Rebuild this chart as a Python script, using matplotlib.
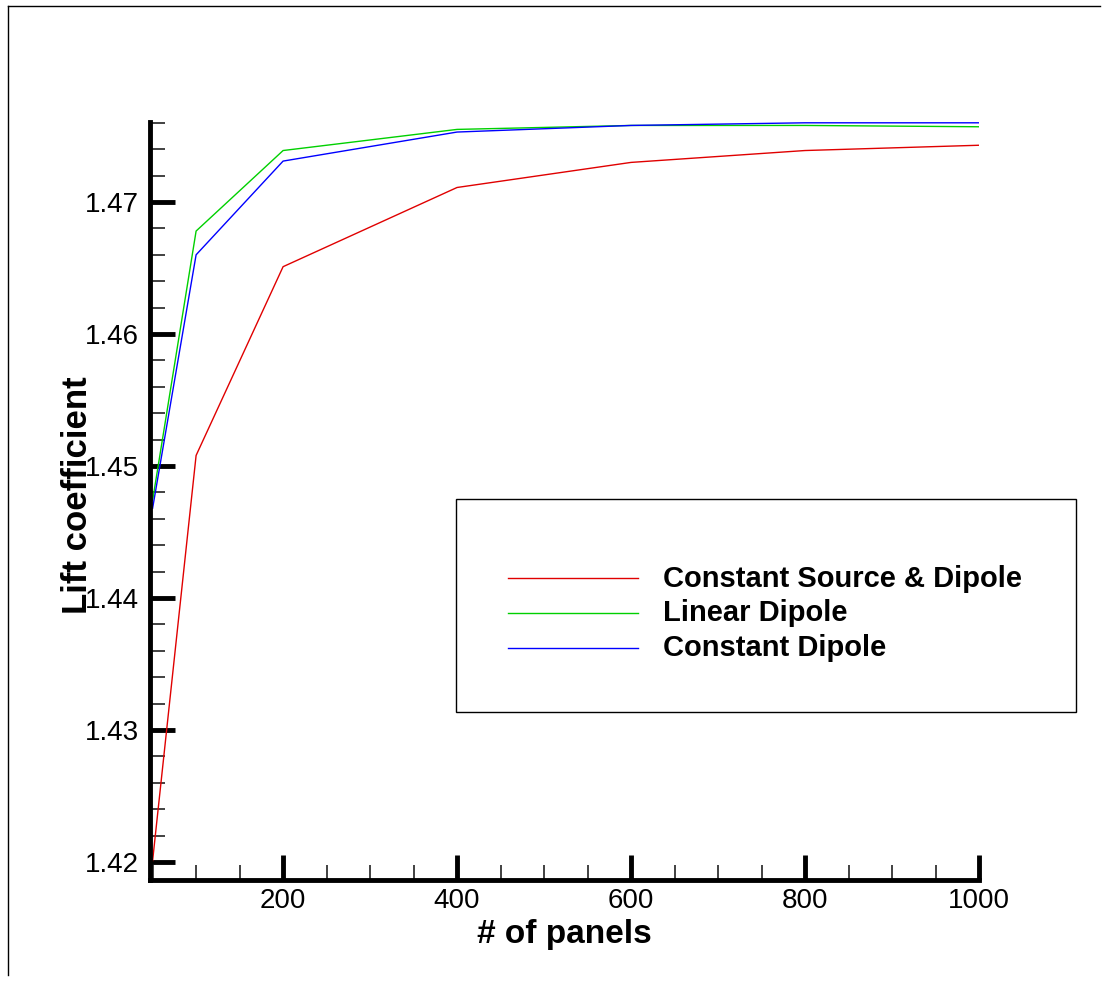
import matplotlib
matplotlib.use("Agg")
import matplotlib.pyplot as plt
from matplotlib.lines import Line2D
from matplotlib.ticker import MultipleLocator

plt.rcParams['font.family'] = ['Liberation Sans', 'DejaVu Sans']

panels = [50, 100, 200, 400, 600, 800, 1000]
const_source_dipole = [1.4201, 1.4508, 1.4651, 1.4711, 1.4730, 1.4739, 1.4743]
linear_dipole = [1.4474, 1.4678, 1.4739, 1.4755, 1.4758, 1.4758, 1.4757]
constant_dipole = [1.4468, 1.4660, 1.4731, 1.4753, 1.4758, 1.4760, 1.4760]
labels = ["Constant Source & Dipole", "Linear Dipole", "Constant Dipole"]
colors = ["#e00000", "#00d000", "#0000ff"]
ytick_vals = [1.42, 1.43, 1.44, 1.45, 1.46, 1.47]
xtick_vals = [200, 400, 600, 800, 1000]

W, H = 1105, 983
fig = plt.figure(figsize=(W/100, H/100), dpi=100)
ax = fig.add_axes([150/W, (H-880)/H, 829/W, (880-122)/H])

series = [const_source_dipole, linear_dipole, constant_dipole]
handles = []
for ys, c, lab in zip(series, colors, labels):
    h, = ax.plot(panels, ys, color=c, lw=1.0, label=lab)
    handles.append(h)

ax.set_xlim(47, 1000)
ax.set_ylim(1.418636, 1.476061)
ax.xaxis.set_minor_locator(MultipleLocator(50))
ax.yaxis.set_minor_locator(MultipleLocator(0.002))
ax.set_yticks(ytick_vals)
ax.set_yticklabels([f"{v:.2f}" for v in ytick_vals])
ax.set_xticks(xtick_vals)
ax.set_xticklabels([str(v) for v in xtick_vals])

for s in ['top', 'right']:
    ax.spines[s].set_visible(False)
for s in ['left', 'bottom']:
    ax.spines[s].set_linewidth(3.5)
ax.tick_params(axis='y', which='major', direction='in', length=18, width=3.5, labelsize=20, pad=8)
ax.tick_params(axis='x', which='major', direction='in', length=18, width=3.5, labelsize=20, pad=6)
ax.tick_params(which='minor', direction='in', length=11, width=1.3, color='#333333')

fig.text(564/W, 1-943/H, "# of panels", fontsize=24, fontweight='bold',
         ha='center', va='baseline')
fig.text(87/W, 1-495/H, "Lift coefficient", fontsize=25, fontweight='bold',
         ha='center', va='baseline', rotation=90, rotation_mode='anchor')

# legend box
fig.add_artist(plt.Rectangle((456/W, 1-712/H), (1076-456)/W, (712-499)/H,
                             transform=fig.transFigure, fill=False, lw=1.0, ec='black'))
leg_line_y = [578, 613, 648]
leg_text_y = [587, 621, 656]
for h, y, ty, lab, c in zip(handles, leg_line_y, leg_text_y, labels, colors):
    fig.add_artist(Line2D([508/W, 638/W], [1-y/H, 1-y/H], color=c, lw=1.0,
                          transform=fig.transFigure))
    fig.text(663/W, 1-ty/H, lab, fontsize=21, fontweight='bold', va='baseline', ha='left')

# page frame
fig.add_artist(Line2D([8/W, 8/W], [1-975/H, 1-6/H], color='black', lw=1.0, transform=fig.transFigure))
fig.add_artist(Line2D([8/W, 1100/W], [1-6/H, 1-6/H], color='black', lw=1.0, transform=fig.transFigure))

fig.savefig("out.png", dpi=100)
